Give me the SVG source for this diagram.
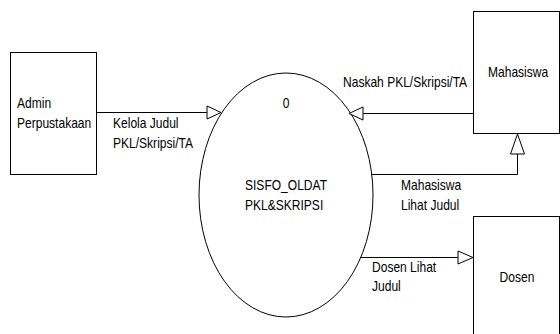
<svg xmlns="http://www.w3.org/2000/svg" width="560" height="334" viewBox="0 0 560 334">
<style>
.box{fill:#fff;stroke:#000;stroke-width:1}
.ln{fill:none;stroke:#000;stroke-width:1}
.ah{fill:#fff;stroke:#000;stroke-width:1}
text{font-family:"Liberation Sans",Arial,sans-serif;font-size:14px;fill:#000}
</style>
<rect width="560" height="334" fill="#fff"/>
<g id="admin">
<rect class="box" x="10.5" y="52.5" width="86" height="122"/>
<text transform="translate(17,108) scale(0.86,1)">Admin</text>
<text transform="translate(17,128) scale(0.86,1)">Perpustakaan</text>
</g>
<g id="proses">
<ellipse class="box" cx="286" cy="195" rx="87" ry="122"/>
<text transform="translate(286,108) scale(0.86,1)" text-anchor="middle">0</text>
<text transform="translate(245,190) scale(0.86,1)">SISFO_OLDAT</text>
<text transform="translate(245,210) scale(0.86,1)">PKL&amp;SKRIPSI</text>
</g>
<g id="mahasiswa">
<rect class="box" x="473.5" y="11.5" width="86" height="122"/>
<text transform="translate(488,77) scale(0.86,1)">Mahasiswa</text>
</g>
<g id="dosen">
<rect class="box" x="473.5" y="216.5" width="86" height="130"/>
<text transform="translate(517,282) scale(0.86,1)" text-anchor="middle">Dosen</text>
</g>
<g id="connectors">
<path class="ln" d="M97 112.5H207"/>
<path class="ah" d="M207 106L221 112.5L207 119Z"/>
<text transform="translate(113,128) scale(0.86,1)">Kelola Judul</text>
<text transform="translate(113,148) scale(0.86,1)">PKL/Skripsi/TA</text>
<path class="ln" d="M473 113.5H363"/>
<path class="ah" d="M363 107L349 113.5L363 120Z"/>
<text transform="translate(343,87) scale(0.86,1)">Naskah PKL/Skripsi/TA</text>
<path class="ln" d="M371 174.5H517.5V154"/>
<path class="ah" d="M510.5 154L517.5 134L524.5 154Z"/>
<text transform="translate(401,190) scale(0.86,1)">Mahasiswa</text>
<text transform="translate(401,210) scale(0.86,1)">Lihat Judul</text>
<path class="ln" d="M360 257.5H458"/>
<path class="ah" d="M458 251L473 257.5L458 264Z"/>
<text transform="translate(372,272) scale(0.86,1)">Dosen Lihat</text>
<text transform="translate(372,291) scale(0.86,1)">Judul</text>
</g>
</svg>
